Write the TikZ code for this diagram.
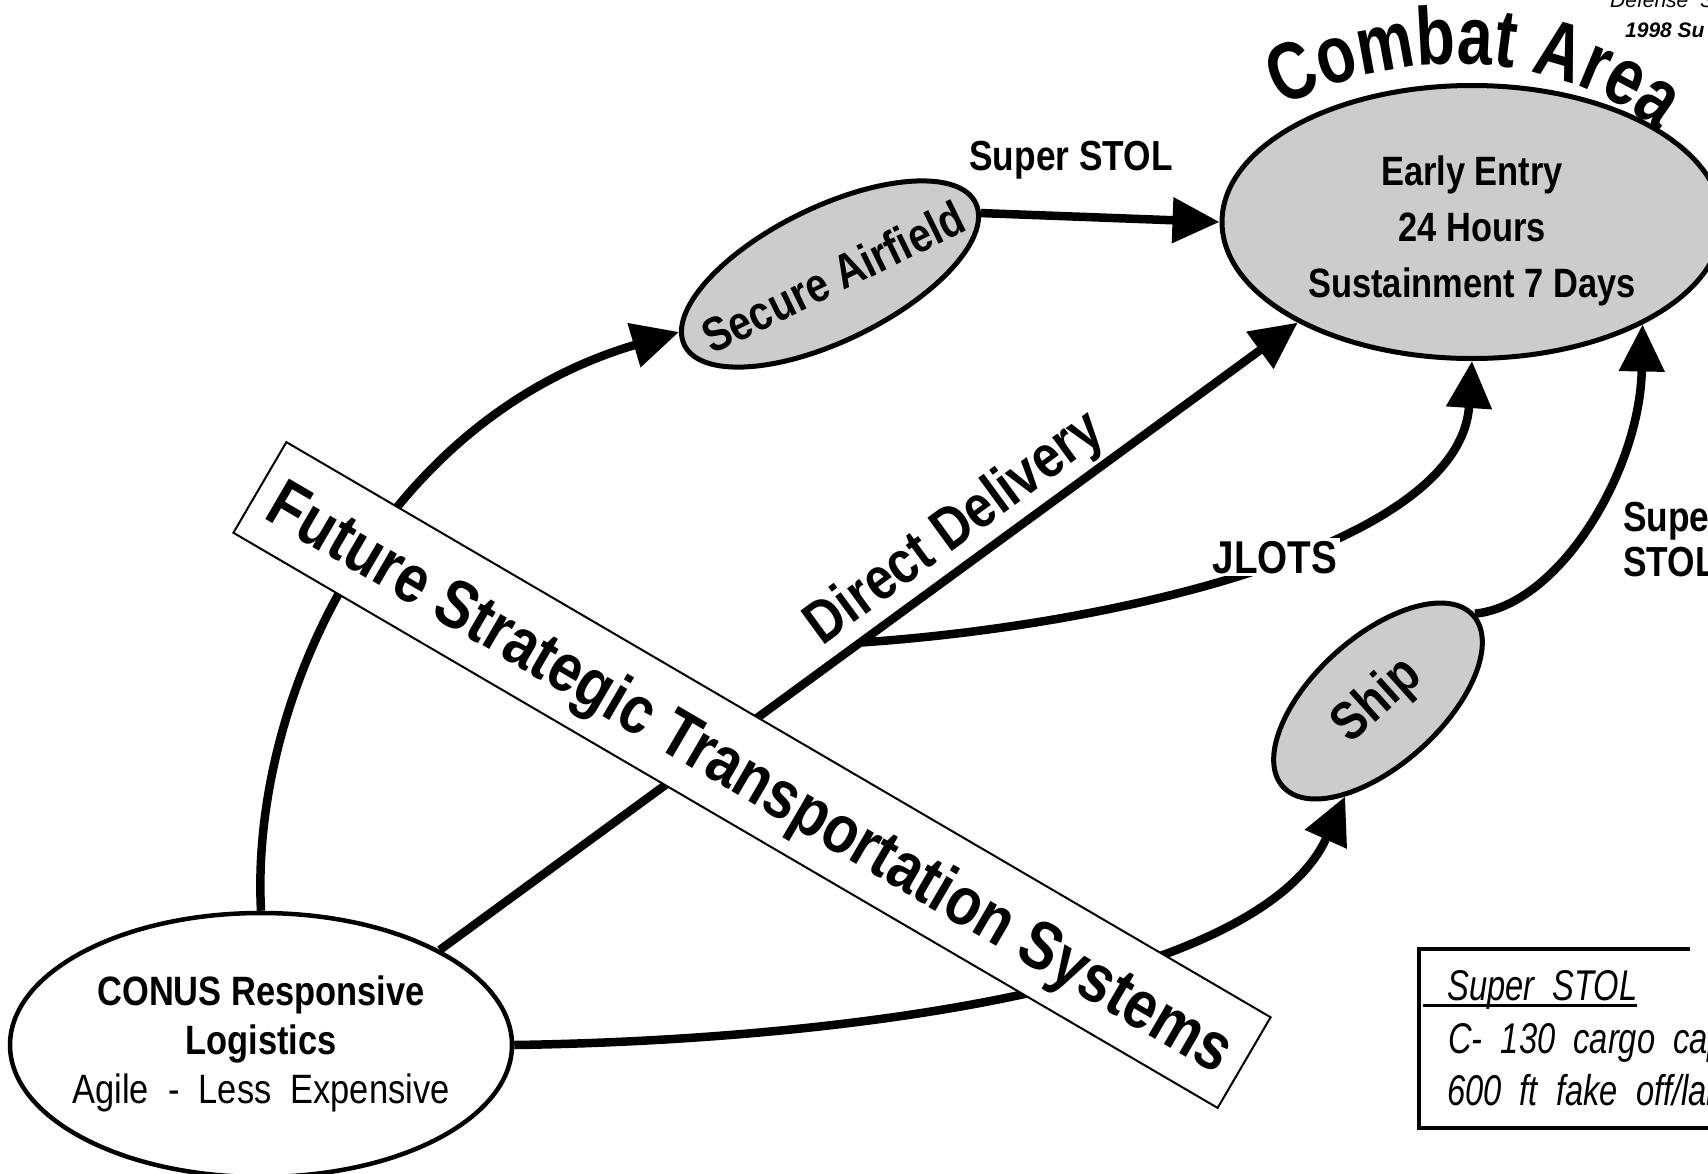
\documentclass[tikz,border=0pt]{standalone}
\usepackage{fontspec}
\setmainfont{Liberation Sans}
\newfontfamily\narrowsf[FakeStretch=0.84]{Liberation Sans}
\newfontfamily\slimsf[FakeStretch=0.76]{Liberation Sans}
\newfontfamily\titlesf[FakeStretch=0.78]{Liberation Sans}
\usetikzlibrary{arrows.meta,shapes.geometric,decorations.text}
\definecolor{areaclr}{rgb}{0.80, 0.80, 0.80}
\newcommand{\fsize}[2]{\fontsize{#1}{#2}\selectfont}
\tikzset{ %
  ,>={Triangle[length=47pt,width=44pt]}
  ,zone/.style={draw, ellipse, line width=5pt, fill=areaclr, inner sep=0}
  ,home/.style={draw, ellipse, line width=4.5pt, fill=white, inner sep=0}
  ,flow/.style={line width=8.5pt, ->}
  ,tag/.style={inner sep=0, font=\narrowsf\bfseries\fsize{42}{45}}
  ,banner/.style={draw, line width=2pt, fill=white, inner sep=0, minimum width=1140pt, minimum height=105pt, text height=49pt, text depth=0pt, font=\narrowsf\bfseries\fsize{68}{72}}
  ,note/.style={inner sep=0, font=\slimsf\itshape\fsize{43}{45}}
}

\begin{document}
\begin{tikzpicture}[x=1pt, y=-1pt]
  \useasboundingbox (0,0) rectangle (1708,1173);
  \fill[white] (0,0) rectangle (1708,1173);
  \node[home, minimum width=502pt, minimum height=264pt] (conus) at (261,1045) {};
  \node[zone, minimum width=500pt, minimum height=273pt] (ca) at (1472,222) {};
  \node[zone, minimum width=324pt, minimum height=134pt, rotate=26] (sa) at (830,274) {};
  \node[zone, minimum width=256pt, minimum height=128pt, rotate=42, font=\narrowsf\bfseries\fsize{54}{56}] (ship) at (1378,701) {Ship};
  \node[tag, align=center, font=\narrowsf\fsize{41}{49}] (conustxt) at (261,1044)
    {\textbf{CONUS Responsive}\\\textbf{Logistics}\\Agile\ \ -\ \ Less\ \ Expensive};
  \node[tag, align=center, font=\narrowsf\bfseries\fsize{41}{56}] (catxt) at (1472,231) {Early Entry\\24 Hours\\Sustainment 7 Days};
  \node[tag, rotate=26, font=\narrowsf\bfseries\fsize{48}{50}] (satxt) at (833,277) {Secure Airfield};
  \path[decorate, decoration={text along path, text align=center, text={|\titlesf\bfseries\fsize{82}{84}|Combat Area}}]
    (1245,128) .. controls (1380,40) and (1570,36) .. (1690,160);

  \draw[flow] (conus.north) .. controls (250,700) and (380,420) .. (sa.175);
  \draw[flow] (sa.-4) -- (ca.west);
  \draw[flow] (conus.28) -- coordinate[pos=0.49] (jl) (ca.210);
  \draw[flow] (jl) .. controls (1120,625) and (1460,545) .. (ca.south);
  \draw[flow] (conus.east) .. controls (850,1040) and (1260,985) .. (ship.209);
  \draw[flow] (ship.east) .. controls (1560,605) and (1640,470) .. (ca.-31);

  \node[tag, anchor=base] (supstol) at (1071,170) {Super STOL};
  \node[tag, anchor=base, rotate=36.2, font=\narrowsf\bfseries\fsize{60}{62}] (dd) at (965,542) {Direct Delivery};
  \node[tag, anchor=base, fill=white, inner sep=3pt, text depth=0pt, font=\narrowsf\bfseries\fsize{46}{48}] (jlots) at (1275,573) {JLOTS};
  \node[tag, anchor=west, align=left] (shipstol) at (1623,540) {Super\\STOL};

  \node[banner, rotate=-30.3] (fsts) at (752,775) {Future Strategic Transportation Systems};

  \draw[line width=3.5pt] (1690,949) -- (1419,949) -- (1419,1128) -- (1708,1128);
  \node[note, anchor=base west] (nhead) at (1447,1000) {Super\ \ STOL};
  \draw[line width=3pt] (1423,1005) -- (1637,1005);
  \node[note, anchor=base west] (nline1) at (1448,1053) {C-\ \ 130\ \ cargo\ \ cap};
  \node[note, anchor=base west] (nline2) at (1447,1105) {600\ \ ft\ \ fake\ \ off/lan};

  \node[anchor=base west, inner sep=0, font=\itshape\fsize{21}{24}] (src1) at (1610,7) {Defense\ \ S};
  \node[anchor=base west, inner sep=0, font=\bfseries\itshape\fsize{21}{24}] (src2) at (1625,37) {1998 Su};
\end{tikzpicture}
\end{document}
